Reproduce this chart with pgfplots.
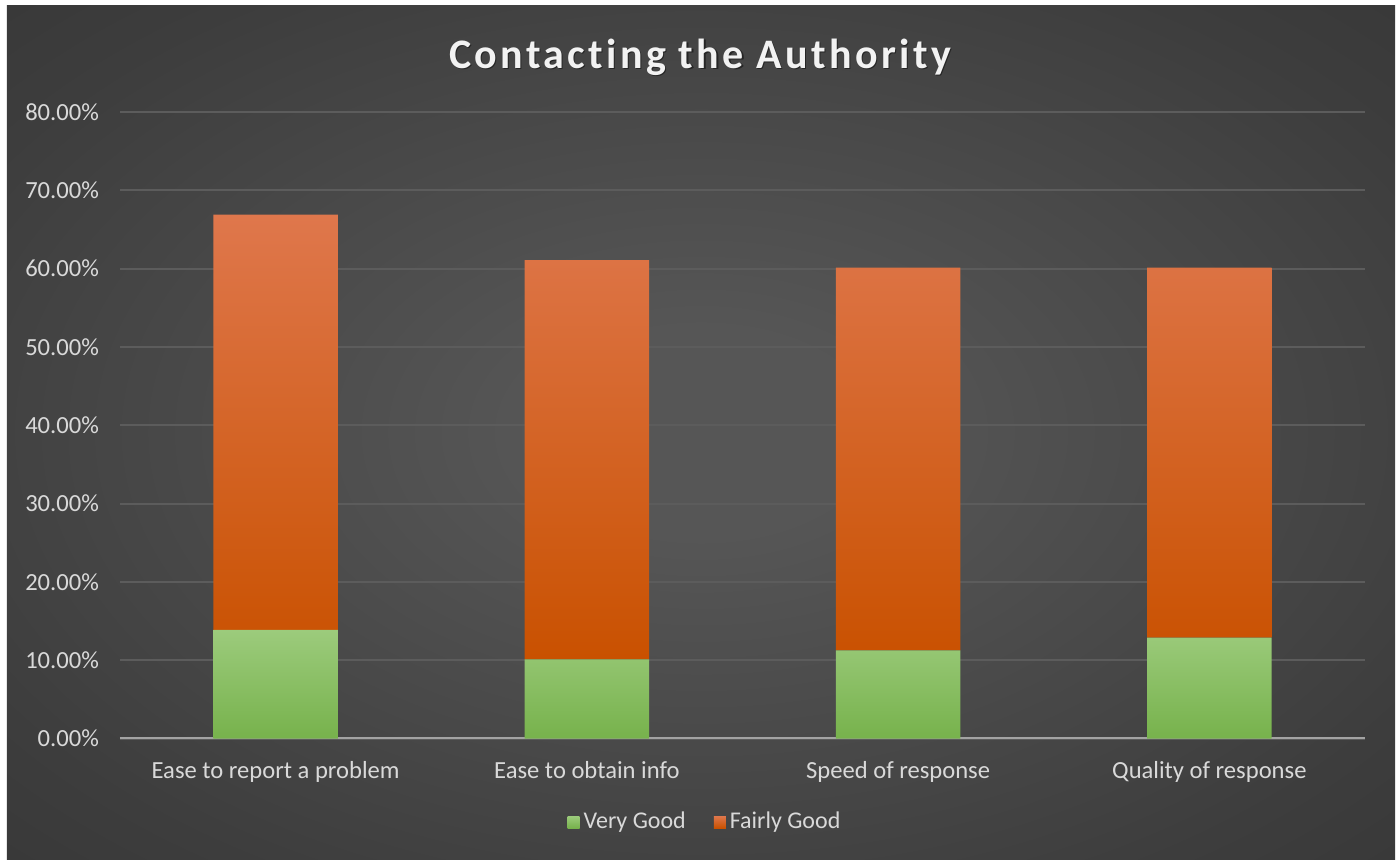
\documentclass[border=0pt]{standalone}
\usepackage{pgfplots}
\pgfplotsset{compat=1.18}
\usepackage{pgfplotstable}
\usetikzlibrary{backgrounds}
\usepackage{fontspec}
\setmainfont{Carlito}
\newfontfamily\titlefont[LetterSpace=8, Ligatures=NoCommon]{Carlito}

\definecolor{bgin}{HTML}{565656}
\definecolor{bgmid}{HTML}{3D3D3D}
\definecolor{bgedge}{HTML}{2E2E2E}
\definecolor{bgout}{HTML}{242424}
\definecolor{gridgray}{HTML}{5C5C5C}
\definecolor{axisgray}{HTML}{A3A3A3}
\definecolor{labelgray}{HTML}{D9D9D9}
\definecolor{titlewhite}{HTML}{F2F2F2}
\definecolor{vgtop}{HTML}{9CCB7C}
\definecolor{vgbot}{HTML}{77B24C}
\definecolor{fgtop}{HTML}{DF774C}
\definecolor{fgbot}{HTML}{C95100}

% soft radial glow for the chart area
\pgfdeclareradialshading{chartbg}{\pgfpoint{0bp}{0bp}}{%
  color(0bp)=(bgin); color(6bp)=(bgin); color(30bp)=(bgmid); color(50bp)=(bgedge); color(71bp)=(bgout); color(80bp)=(bgout)}

\pgfplotstableread{
x  vgood  fgood
0  13.86  53.05
1  10.10  51.00
2  11.27  48.85
3  12.87  47.25
}\ratings

\begin{document}
\begin{tikzpicture}[x=1pt,y=1pt]
  \begin{axis}[
    scale only axis, width=622.5pt, height=313.25pt,
    xmin=-0.5, xmax=3.5, ymin=0, ymax=80,
    ybar stacked, bar width=0.4,
    xtick={0,1,2,3},
    xticklabels={Ease to report a problem, Ease to obtain info, Speed of response, Quality of response},
    ytick={0,10,...,80},
    yticklabel={\pgfmathprintnumber[fixed,fixed zerofill,precision=2]{\tick}\%},
    /pgf/number format/assume math mode=true,
    ymajorgrids, grid style={draw=gridgray, line width=1pt},
    major tick length=0pt,
    axis line style={draw=none},
    tick label style={text=labelgray, font=\fontsize{12.3}{14}\selectfont},
    yticklabel style={xshift=-7pt},
    xticklabel style={yshift=-8pt},
    legend style={at={(0.4707,-0.1333)}, anchor=center, draw=none, fill=none,
      text=labelgray, font=\fontsize{12}{14}\selectfont,
      legend columns=2,
      /tikz/every even column/.append style={column sep=12pt}},
    legend image code/.code={\fill[#1] (0pt,-3pt) rectangle (6pt,3pt);},
  ]
    \addplot[draw=none, top color=vgtop, bottom color=vgbot] table[x=x, y=vgood] {\ratings};
    \addlegendentry{Very Good}
    \addplot[draw=none, top color=fgtop, bottom color=fgbot] table[x=x, y=fgood] {\ratings};
    \addlegendentry{Fairly Good}
    % category axis line drawn over the bar bases
    \draw[axisgray, line width=1.25pt] (axis cs:-0.5,0) -- (axis cs:3.5,0);
    \coordinate (O) at (rel axis cs:0,0);
  \end{axis}

  % page and chart area behind the plot
  \begin{scope}[on background layer, shift={(O)}]
    \fill[white] (-60,-60.25) rectangle (639.5,369.25);
    \shade[shading=chartbg] (-56.5,-60.25) rectangle (637.5,366.25);
  \end{scope}

  % title with a soft shadow
  \begin{scope}[shift={(O)}]
    \node[text=black, opacity=0.45] at (290.6,340.05)
      {\titlefont\bfseries\fontsize{21}{25}\selectfont Contacting the Authority};
    \node[text=titlewhite] at (290,340.75)
      {\titlefont\bfseries\fontsize{21}{25}\selectfont Contacting the Authority};
  \end{scope}
\end{tikzpicture}
\end{document}
